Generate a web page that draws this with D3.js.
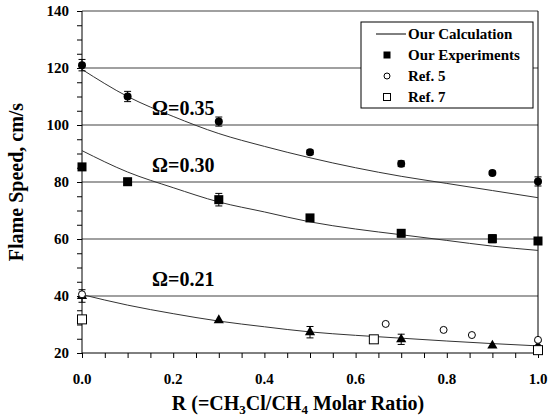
<!DOCTYPE html>
<html>
<head>
<meta charset="utf-8">
<script src="https://cdn.jsdelivr.net/npm/d3@7"></script>
<style>
  body { margin: 0; background: #fff; }
</style>
</head>
<body>
<div class="chart"></div>
<script>
// calculated curves (R, flame speed)
const calcR = [0, 0.1, 0.2, 0.3, 0.4, 0.5, 0.6, 0.7, 0.8, 0.9, 1.0]
const calc35 = [119.5, 110, 103, 97, 92.5, 88.5, 85, 82, 79.5, 77, 74.5]
const calc30 = [91, 83.5, 78, 73, 69.5, 66, 63.5, 61.5, 59.5, 57.5, 56]
const calc21 = [40.5, 36.8, 33.8, 31.2, 29.2, 27.4, 26.2, 25.2, 24.2, 23.3, 22.5]

// our experiments: [R, value, error]
const exp35 = [[0, 121, 2], [0.1, 110, 1.8], [0.3, 101.2, 1.6], [0.5, 90.4, 0.8], [0.7, 86.4, 1], [0.9, 83.2, 0.6], [1.0, 80.2, 1.6]]
const exp30 = [[0, 85.3, 0], [0.1, 80.1, 0], [0.3, 73.8, 2.2], [0.5, 67.4, 1], [0.7, 62, 1.2], [0.9, 60.1, 1.4], [1.0, 59.3, 0]]
const exp21 = [[0, 40, 2.2], [0.3, 31.5, 0], [0.5, 27.3, 2], [0.7, 24.8, 1.8], [0.9, 22.6, 0], [1.0, 22.5, 1.5]]

const ref5 = [[0, 40.6], [0.666, 30.2], [0.793, 28.1], [0.855, 26.3], [1.0, 24.6]]
const ref7 = [[0, 31.8], [0.64, 24.8], [1.0, 21]]

const omegaLabels = [["Ω=0.35", 104], ["Ω=0.30", 84], ["Ω=0.21", 44]]
const xTicks = [0, 0.2, 0.4, 0.6, 0.8, 1.0]
const yTicks = [20, 40, 60, 80, 100, 120, 140]

const W = 552, H = 418
const margin = { top: 11, right: 14, bottom: 65, left: 82 }
const width = W - margin.left - margin.right
const height = H - margin.top - margin.bottom
const FONT = "'Liberation Serif', 'DejaVu Serif', 'Times New Roman', serif"

const svg = d3.select(".chart").append("svg")
    .attr("width", W).attr("height", H)
    .attr("font-family", FONT)
    .attr("font-weight", "bold")

const g = svg.append("g")
    .attr("transform", `translate(${margin.left},${margin.top})`)

const x = d3.scaleLinear().domain([0, 1]).range([0, width])
const y = d3.scaleLinear().domain([20, 140]).range([height, 0])

// gridlines
g.append("g").selectAll("line")
    .data(yTicks.slice(1))
    .join("line")
    .attr("x1", 0).attr("x2", width)
    .attr("y1", d => y(d)).attr("y2", d => y(d))
    .attr("stroke", "#808080").attr("stroke-width", 1.5)

// right border
g.append("line")
    .attr("x1", width).attr("x2", width)
    .attr("y1", 0).attr("y2", height)
    .attr("stroke", "#000")

// axes with minor ticks
const xAxis = d3.axisBottom(x).tickValues(d3.range(0, 1.0001, 0.05)).tickSize(5).tickFormat("")
const yAxis = d3.axisLeft(y).tickValues(d3.range(20, 140.001, 5)).tickSize(5).tickFormat("")

g.append("g").attr("transform", `translate(0,${height})`).call(xAxis)
    .call(a => a.select(".domain").attr("d", `M0,0H${width}`))
g.append("g").call(yAxis)
    .call(a => a.select(".domain").attr("d", `M0,${height}V0`))

g.selectAll(".tick line").attr("stroke", "#000")

g.append("g").selectAll("text")
    .data(xTicks).join("text")
    .attr("x", d => x(d)).attr("y", height + 31)
    .attr("text-anchor", "middle").attr("font-size", 15)
    .text(d => d.toFixed(1))

g.append("g").selectAll("text")
    .data(yTicks).join("text")
    .attr("x", -13).attr("y", d => y(d) + 5)
    .attr("text-anchor", "end").attr("font-size", 15)
    .text(d => d)

// calculated lines
const line = d3.line()
    .x((d, i) => x(calcR[i]))
    .y(d => y(d))
    .curve(d3.curveMonotoneX)

for (const s of [calc35, calc30, calc21]) {
    g.append("path").datum(s)
        .attr("fill", "none").attr("stroke", "#333").attr("stroke-width", 1)
        .attr("d", line)
}

// error bars
function errorBars(data) {
    const eb = g.append("g").attr("stroke", "#000").attr("stroke-width", 1)
    data.filter(d => d[2] > 0).forEach(d => {
        const cx = x(d[0]), y1 = y(d[1] - d[2]), y2 = y(d[1] + d[2])
        eb.append("line").attr("x1", cx).attr("x2", cx).attr("y1", y1).attr("y2", y2)
        eb.append("line").attr("x1", cx - 3.5).attr("x2", cx + 3.5).attr("y1", y1).attr("y2", y1)
        eb.append("line").attr("x1", cx - 3.5).attr("x2", cx + 3.5).attr("y1", y2).attr("y2", y2)
    })
}
errorBars(exp35)
errorBars(exp30)
errorBars(exp21)

g.append("g").selectAll("circle")
    .data(exp35).join("circle")
    .attr("cx", d => x(d[0])).attr("cy", d => y(d[1]))
    .attr("r", 4).attr("fill", "#000")

g.append("g").selectAll("rect")
    .data(exp30).join("rect")
    .attr("x", d => x(d[0]) - 4.5).attr("y", d => y(d[1]) - 4.5)
    .attr("width", 9).attr("height", 9).attr("fill", "#000")

const tri = d3.symbol(d3.symbolTriangle, 45)
g.append("g").selectAll("path")
    .data(exp21).join("path")
    .attr("transform", d => `translate(${x(d[0])},${y(d[1])})`)
    .attr("d", tri).attr("fill", "#000")

g.append("g").selectAll("circle")
    .data(ref5).join("circle")
    .attr("cx", d => x(d[0])).attr("cy", d => y(d[1]))
    .attr("r", 3.5).attr("fill", "#fff").attr("stroke", "#000")

g.append("g").selectAll("rect")
    .data(ref7).join("rect")
    .attr("x", d => x(d[0]) - 4.5).attr("y", d => y(d[1]) - 4.5)
    .attr("width", 9).attr("height", 9).attr("fill", "#fff").attr("stroke", "#000")

// omega labels
g.append("g").selectAll("text")
    .data(omegaLabels).join("text")
    .attr("x", 70).attr("y", d => y(d[1]) + 1)
    .attr("font-size", 20)
    .text(d => d[0])

// legend
const lg = svg.append("g").attr("transform", "translate(361,22)")
lg.append("rect").attr("width", 172).attr("height", 86)
    .attr("fill", "#fff").attr("stroke", "#000")
const legendItems = ["Our Calculation", "Our Experiments", "Ref. 5", "Ref. 7"]
legendItems.forEach((t, i) => {
    const cy = 12 + i * 21
    lg.append("text").attr("x", 47).attr("y", cy + 5).attr("font-size", 15).text(t)
})
lg.append("line").attr("x1", 15).attr("x2", 45).attr("y1", 12).attr("y2", 12).attr("stroke", "#000")
lg.append("rect").attr("x", 22.5).attr("y", 29.5).attr("width", 7).attr("height", 7).attr("fill", "#000")
lg.append("circle").attr("cx", 26).attr("cy", 54).attr("r", 3).attr("fill", "#fff").attr("stroke", "#000")
lg.append("rect").attr("x", 22.5).attr("y", 71.5).attr("width", 7).attr("height", 7).attr("fill", "#fff").attr("stroke", "#000")

// axis titles
svg.append("text")
    .attr("transform", `translate(23,${margin.top + height / 2}) rotate(-90)`)
    .attr("text-anchor", "middle").attr("font-size", 20)
    .text("Flame Speed, cm/s")

const xt = svg.append("text")
    .attr("x", 298).attr("y", 410)
    .attr("text-anchor", "middle").attr("font-size", 20)
xt.append("tspan").text("R (=CH")
xt.append("tspan").attr("font-size", 13).attr("dy", 4).text("3")
xt.append("tspan").attr("dy", -4).text("Cl/CH")
xt.append("tspan").attr("font-size", 13).attr("dy", 4).text("4")
xt.append("tspan").attr("dy", -4).text(" Molar Ratio)")
</script>
</body>
</html>
